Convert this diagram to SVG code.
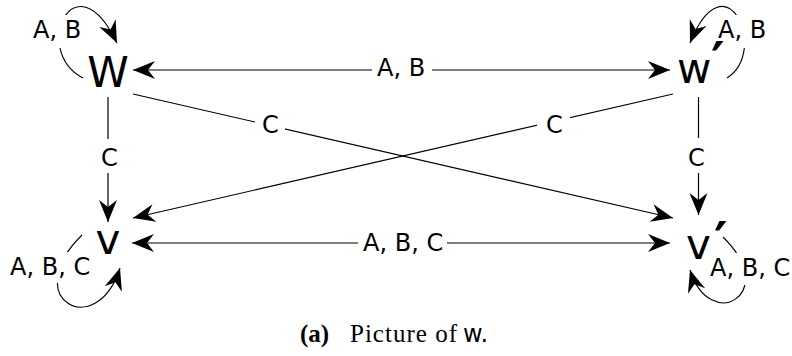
<svg xmlns="http://www.w3.org/2000/svg" width="792" height="356" viewBox="0 0 792 356">
<style>
  .edge { fill: none; stroke: #000; stroke-width: 1.2; }
  .loop { fill: none; stroke: #000; stroke-width: 1.1; }
  .lbl { font-family: "DejaVu Sans", sans-serif; font-size: 24px; fill: #000; }
  .bg { fill: #fff; stroke: none; }
  .node { font-family: "DejaVu Sans", sans-serif; font-size: 42px; fill: #000; }
  .prime { font-family: "DejaVu Sans", sans-serif; font-size: 52px; font-weight: bold; fill: #000; }
  .cap { font-family: "Liberation Serif", serif; font-size: 25px; fill: #000; }
</style>
<defs>
  <marker id="arr" viewBox="-23 -10 24 20" markerWidth="24" markerHeight="20" refX="0" refY="0" orient="auto-start-reverse" markerUnits="userSpaceOnUse">
    <path d="M0,0 L-22,-9 L-15,0 L-22,9 Z" fill="#000"/>
  </marker>
</defs>
<g id="connectors">
  <line class="edge" x1="133" y1="70" x2="670" y2="70" marker-start="url(#arr)" marker-end="url(#arr)"/>
  <line class="edge" x1="132" y1="243" x2="670" y2="243" marker-start="url(#arr)" marker-end="url(#arr)"/>
  <line class="edge" x1="108" y1="97" x2="108" y2="222" marker-end="url(#arr)"/>
  <line class="edge" x1="698.5" y1="97" x2="698.5" y2="215" marker-end="url(#arr)"/>
  <line class="edge" x1="133" y1="94" x2="673" y2="218" marker-end="url(#arr)"/>
  <line class="edge" x1="673" y1="94" x2="133" y2="218" marker-end="url(#arr)"/>
  <path class="loop" d="M83,78 C30,50 75,-45 117,43" marker-end="url(#arr)"/>
  <path class="loop" d="M727,78 C770,50 725,-45 690,43" marker-end="url(#arr)"/>
  <path class="loop" d="M82,235 C18,298 96,343 120,268" marker-end="url(#arr)"/>
  <path class="loop" d="M723,237 C781,294 710,334 690,270" marker-end="url(#arr)"/>
  <g id="edge-labels">
    <rect class="bg" x="372" y="56" width="60" height="26"/>
    <text class="lbl" x="377" y="76">A, B</text>
    <rect class="bg" x="358" y="229" width="89" height="28"/>
    <text class="lbl" x="363" y="251">A, B, C</text>
    <rect class="bg" x="99" y="139" width="20" height="34"/>
    <text class="lbl" x="109.5" y="166" text-anchor="middle">C</text>
    <rect class="bg" x="688" y="138" width="20" height="35"/>
    <text class="lbl" x="696.5" y="166" text-anchor="middle">C</text>
    <rect class="bg" x="255" y="110" width="30" height="28"/>
    <text class="lbl" x="270.5" y="133" text-anchor="middle">C</text>
    <rect class="bg" x="537" y="110" width="33" height="28"/>
    <text class="lbl" x="554.5" y="133" text-anchor="middle">C</text>
    <rect class="bg" x="29" y="15" width="57" height="33"/>
    <text class="lbl" x="33" y="38">A, B</text>
    <rect class="bg" x="713" y="15" width="56" height="33"/>
    <text class="lbl" x="718" y="38">A, B</text>
    <rect class="bg" x="6" y="252" width="88" height="31"/>
    <text class="lbl" x="10" y="275">A, B, C</text>
    <rect class="bg" x="708" y="253" width="84" height="32"/>
    <text class="lbl" x="710" y="276">A, B, C</text>
  </g>
</g>
<g id="node-w">
  <text class="node" x="108" y="87" text-anchor="middle">W</text>
</g>
<g id="node-w-prime">
  <text class="node" x="677" y="83">w</text>
  <text class="prime" x="711" y="79">′</text>
</g>
<g id="node-v">
  <text class="node" x="108" y="254" text-anchor="middle">v</text>
</g>
<g id="node-v-prime">
  <text class="node" x="686" y="259">v</text>
  <text class="prime" x="714" y="259">′</text>
</g>
<g id="caption">
  <text class="cap" x="300" y="342" font-weight="bold" font-size="26">(a)</text>
  <text class="cap" x="350" y="342" textLength="107" lengthAdjust="spacing">Picture of</text>
  <text x="463" y="342" font-family="DejaVu Sans, sans-serif" font-size="24">w.</text>
</g>
</svg>
